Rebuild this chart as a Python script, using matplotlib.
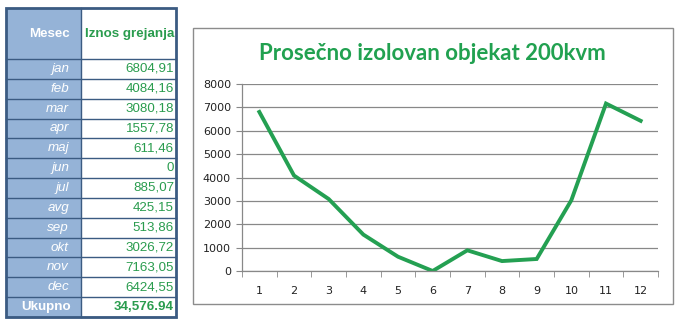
import matplotlib.pyplot as plt
from matplotlib.patches import Rectangle

months = ["jan", "feb", "mar", "apr", "maj", "jun",
          "jul", "avg", "sep", "okt", "nov", "dec"]
heating = [6804.91, 4084.16, 3080.18, 1557.78, 611.46, 0,
           885.07, 425.15, 513.86, 3026.72, 7163.05, 6424.55]
heating_labels = ["6804,91", "4084,16", "3080,18", "1557,78", "611,46", "0",
                  "885,07", "425,15", "513,86", "3026,72", "7163,05", "6424,55"]
total_label = "34,576.94"
month_numbers = list(range(1, 13))

W, H = 680, 328
fig = plt.figure(figsize=(W / 100, H / 100), dpi=100)
fig.patch.set_facecolor("white")

# --- table drawn in pixel coordinates ---
tab = fig.add_axes([0, 0, 1, 1])
tab.set_xlim(0, W)
tab.set_ylim(H, 0)
tab.axis("off")

blue = "#95B3D7"
border = "#3B5B82"
green_txt = "#2A9C4E"
x0, xm, x1 = 6, 81, 176
y_top, y_head = 8, 59
row_h = (317 - y_head) / 13

tab.add_patch(Rectangle((x0, y_top), xm - x0, 317 - y_top, facecolor=blue, edgecolor="none"))
for i in range(14):
    y = y_head + i * row_h
    tab.plot([x0, x1], [y, y], color=border, lw=1.0)
tab.plot([xm, xm], [y_top, 317], color=border, lw=1.0)
tab.add_patch(Rectangle((x0, y_top), x1 - x0, 317 - y_top, facecolor="none",
                        edgecolor=border, lw=2.0))

fs = 9.6
tab.text(xm - 11, 34, "Mesec", ha="right", va="center", color="white",
         fontsize=fs, fontweight="bold", family="Liberation Sans")
tab.text(x1 - 2, 34, "Iznos grejanja", ha="right", va="center", color=green_txt,
         fontsize=fs, fontweight="bold", family="Liberation Sans")
for i, (m, v) in enumerate(zip(months, heating_labels)):
    yc = y_head + (i + 0.5) * row_h
    tab.text(xm - 12, yc, m, ha="right", va="center", color="white",
             fontsize=fs, style="italic", family="Liberation Sans")
    tab.text(x1 - 2, yc, v, ha="right", va="center", color=green_txt,
             fontsize=fs, family="Liberation Sans")
yc = y_head + 12.5 * row_h
tab.text(xm - 10, yc, "Ukupno", ha="right", va="center", color="white",
         fontsize=fs, fontweight="bold", family="Liberation Sans")
tab.text(x1 - 2, yc, total_label, ha="right", va="center", color=green_txt,
         fontsize=fs, fontweight="bold", family="Liberation Sans")

# chart frame
tab.add_patch(Rectangle((193, 28), 480, 276, facecolor="none", edgecolor="#8C8C8C", lw=1.0))
tab.text(432, 53, "Prosečno izolovan objekat 200kvm", ha="center", va="center",
         color="#21A150", fontsize=16, fontweight="bold", family="Lato")

# --- line chart ---
ax = fig.add_axes([242 / W, (H - 271) / H, (658 - 242) / W, (271 - 84) / H])
ax.plot(month_numbers, heating, color="#24A052", lw=2.8, solid_joinstyle="miter")
ax.set_xlim(0.5, 12.5)
ax.set_ylim(0, 8000)
ax.set_yticks(range(0, 8001, 1000))
ax.set_xticks(month_numbers)
ax.set_xticks([x + 0.5 for x in range(0, 13)], minor=True)
ax.grid(axis="y", color="#888888", lw=0.9)
ax.set_axisbelow(True)
for s in ["top", "right"]:
    ax.spines[s].set_visible(False)
for s in ["left", "bottom"]:
    ax.spines[s].set_color("#888888")
    ax.spines[s].set_linewidth(0.9)
ax.tick_params(axis="x", which="major", length=0, pad=11, labelsize=8, colors="#333333")
ax.tick_params(axis="x", which="minor", length=4, direction="out", color="#888888")
ax.tick_params(axis="y", length=4, direction="out", color="#888888", labelsize=8,
               colors="#333333", pad=4)
for lab in ax.get_xticklabels() + ax.get_yticklabels():
    lab.set_family("DejaVu Sans")
    lab.set_color("#222222")

fig.savefig("out.png", dpi=100)
